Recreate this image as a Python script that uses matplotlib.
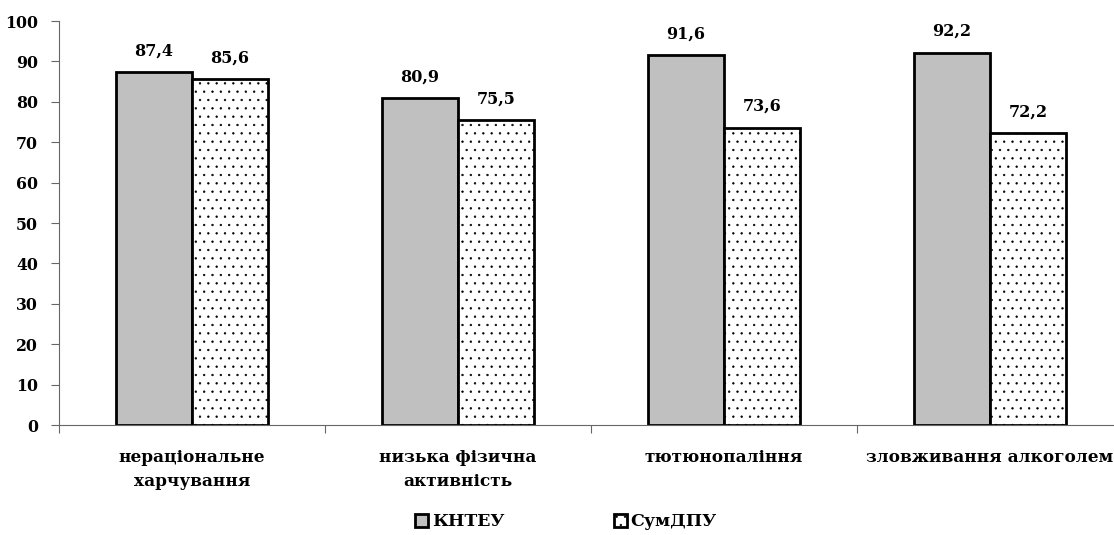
import numpy as np
import matplotlib.pyplot as plt

# data
categories = ['нераціональне\nхарчування', 'низька фізична\nактивність',
              'тютюнопаління', 'зловживання алкоголем']
knteu = [87.4, 80.9, 91.6, 92.2]
sumdpu = [85.6, 75.5, 73.6, 72.2]
series_names = ['КНТЕУ', 'СумДПУ']

plt.rcParams['font.family'] = ['DejaVu Serif']
plt.rcParams['font.weight'] = 'bold'
plt.rcParams['hatch.linewidth'] = 0.45
plt.rcParams['hatch.color'] = '#333333'

fig = plt.figure(figsize=(11.14, 5.35), dpi=100)
ax = fig.add_axes([59 / 1114, 110 / 535, 1064 / 1114, 404 / 535])

x = np.arange(len(categories)) + 0.5
w = 0.286
b1 = ax.bar(x - w / 2, knteu, w, color='#c0c0c0', edgecolor='black', linewidth=2, label=series_names[0])
b2 = ax.bar(x + w / 2, sumdpu, w, color='white', edgecolor='black', linewidth=2,
            hatch='..', label=series_names[1])

for bars, vals in ((b1, knteu), (b2, sumdpu)):
    for r, v in zip(bars, vals):
        ax.annotate(f'{v:.1f}'.replace('.', ','), (r.get_x() + r.get_width() / 2, v),
                    xytext=(0, 12), textcoords='offset points', ha='center', va='baseline',
                    fontsize=11.5, fontweight='bold')

ax.set_xlim(0, len(categories))
ax.set_ylim(0, 100)
ax.set_yticks(range(0, 101, 10))
ax.set_xticks(range(len(categories) + 1))
ax.set_xticklabels([])
ax.set_xticks(x, minor=True)
ax.set_xticklabels(categories, minor=True, fontsize=12.2, fontweight='bold', linespacing=1.55)
ax.tick_params(axis='x', which='minor', length=0, pad=17)
ax.tick_params(axis='x', which='major', length=6, direction='out', color='#666666')
ax.tick_params(axis='y', length=6, direction='out', labelsize=11.3, color='#666666', pad=9)
for t in ax.get_yticklabels():
    t.set_fontweight('bold')

for s in ('top', 'right'):
    ax.spines[s].set_visible(False)
ax.spines['left'].set_color('#666666')
ax.spines['bottom'].set_color('#666666')

fig.legend(handles=[b1, b2], loc='center', bbox_to_anchor=(566 / 1114, 13 / 535), ncol=2,
           frameon=False, fontsize=12.5, handlelength=0.75, handleheight=0.75,
           handletextpad=0.2, columnspacing=6.3, borderpad=0)

plt.savefig('out.png', dpi=100)
